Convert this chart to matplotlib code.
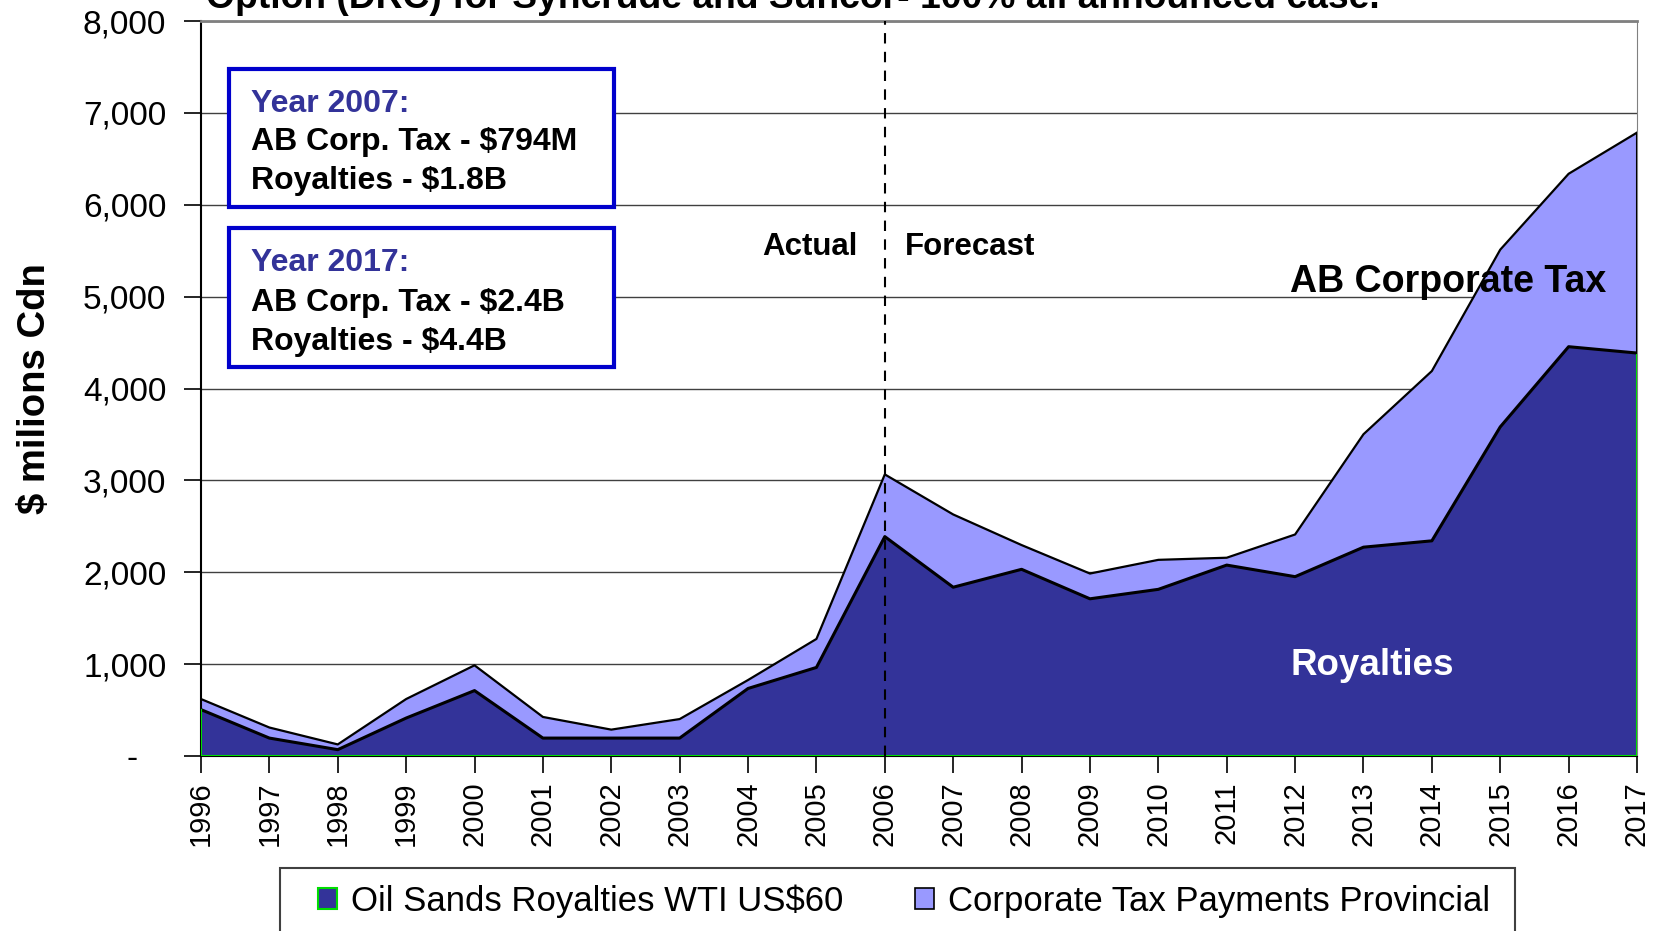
import numpy as np
import matplotlib.pyplot as plt
from matplotlib.patches import Rectangle, Patch
from matplotlib import font_manager

# values ($ millions Cdn)
years = np.arange(1996, 2018)
royalties = [505, 195, 69, 413, 712, 195, 195, 195, 735, 964, 2388,
             1837, 2032, 1711, 1814, 2078, 1952, 2273, 2342, 3582, 4455, 4386]
total = [620, 310, 126, 620, 987, 425, 287, 402, 827, 1274, 3065,
         2629, 2296, 1986, 2135, 2158, 2411, 3502, 4190, 5511, 6337, 6785]
corp_tax = [t - r for t, r in zip(total, royalties)]

y_ticks = [0, 1000, 2000, 3000, 4000, 5000, 6000, 7000, 8000]
series_labels = ['Oil Sands Royalties WTI US$60', 'Corporate Tax Payments Provincial']
box_2007 = ['Year 2007:', 'AB Corp. Tax - $794M', 'Royalties - $1.8B']
box_2017 = ['Year 2017:', 'AB Corp. Tax - $2.4B', 'Royalties - $4.4B']

ROY = '#333399'
TAX = '#9999FF'
GREEN = '#00DD00'

names = {f.name for f in font_manager.fontManager.ttflist}
SANS = 'Liberation Sans' if 'Liberation Sans' in names else 'DejaVu Sans'
NARROW = 'Liberation Sans Narrow' if 'Liberation Sans Narrow' in names else SANS
plt.rcParams['font.family'] = SANS

W, H = 1654, 931
fig = plt.figure(figsize=(W / 100, H / 100), dpi=100)
ax = fig.add_axes([201 / W, 1 - 756 / H, 1436 / W, 735 / H])

# stacked areas
ax.fill_between(years, 0, royalties, color=ROY, lw=0, zorder=2)
ax.fill_between(years, royalties, total, color=TAX, lw=0, zorder=2)
ax.plot(years, total, color='black', lw=1.6, zorder=3)
ax.plot(years, royalties, color='black', lw=2.2, zorder=3)
ax.plot([years[0], years[-1]], [0, 0], color=GREEN, lw=1.5, zorder=4)
ax.plot([years[0]] * 2, [0, royalties[0]], color=GREEN, lw=1.5, zorder=4)
ax.plot([years[-1]] * 2, [0, royalties[-1]], color=GREEN, lw=1.5, zorder=4)
ax.plot([years[-1]] * 2, [royalties[-1], total[-1]], color='black', lw=1.5, zorder=4)

# actual / forecast divider
ax.axvline(2006, color='black', lw=1.5, ls=(0, (5, 4)), zorder=5)

ax.set_xlim(years[0], years[-1])
ax.set_ylim(0, 8000)
ax.set_yticks(y_ticks)
ax.set_yticklabels(['-   '] + [f'{v:,}' for v in y_ticks[1:]])
ax.set_xticks(years)
ax.set_xticklabels([str(y) for y in years], rotation=90)
ax.tick_params(axis='y', length=12, width=1.2, pad=13, labelsize=24, direction='out')
ax.tick_params(axis='x', length=12, width=1.2, pad=6, labelsize=21, direction='out')
ax.grid(axis='y', color='#404040', lw=1, zorder=1)
ax.set_axisbelow(True)
ax.spines['top'].set_color('#808080')
ax.spines['top'].set_linewidth(2)
ax.spines['right'].set_color('#808080')
ax.spines['left'].set_linewidth(1.5)

ax.set_ylabel('$ milions Cdn', fontsize=27.5, fontweight='bold', family=NARROW)
ax.yaxis.set_label_coords(-(201 - 53) / 1436, 0.5)

# annotations
dy = -35
ax.text(2005.6, 5580 + dy, 'Actual', ha='right', va='center', fontsize=22.5, fontweight='bold')
ax.text(2006.3, 5580 + dy, 'Forecast', ha='left', va='center', fontsize=22.5, fontweight='bold')
ax.text(2011.93, 5197 + dy, 'AB Corporate Tax', ha='left', va='center', fontsize=27,
        fontweight='bold', zorder=6)
ax.text(2011.93, 1019 + dy, 'Royalties', ha='left', va='center', fontsize=26.5,
        fontweight='bold', color='white', zorder=6)


def info_box(lines, top, bottom, centers):
    x0, x1 = (229 - 201) / 1436, (614 - 201) / 1436
    y0, y1 = (756 - bottom) / 735, (756 - top) / 735
    ax.add_patch(Rectangle((x0, y0), x1 - x0, y1 - y0, transform=ax.transAxes,
                           facecolor='white', edgecolor='#0000CC', lw=3, zorder=7))
    for i, (txt, cy) in enumerate(zip(lines, centers)):
        ax.text((251 - 201) / 1436, (756 - cy - 3) / 735, txt, transform=ax.transAxes,
                ha='left', va='center', fontsize=23, fontweight='bold',
                color='#333399' if i == 0 else 'black', zorder=8)


info_box(box_2007, 69, 207, [101, 139, 178])
info_box(box_2017, 228, 367, [260, 300, 339])

# title, cut off at the top edge as in the reference
fig.text(206 / W, 1 - 8 / H, 'Option (DRC) for Syncrude and Suncor- 100% all announced case.',
         ha='left', va='baseline', fontsize=26.8, fontweight='bold')

# legend
fig.patches.append(Rectangle((280 / W, 1 - 940 / H), (1515 - 280) / W, (940 - 868) / H,
                             transform=fig.transFigure, facecolor='white',
                             edgecolor='#404040', lw=1.5))
handles = [Patch(facecolor=ROY, edgecolor=GREEN, lw=1.5),
           Patch(facecolor=TAX, edgecolor='black', lw=1.2)]
fig.legend(handles, series_labels, loc='center left', bbox_to_anchor=(318 / W, 1 - 901 / H),
           ncol=2, frameon=False, fontsize=25, handlelength=0.55, handleheight=0.55,
           handletextpad=0.4, columnspacing=2.05, borderpad=0, borderaxespad=0)

fig.savefig('out.png', dpi=100)
